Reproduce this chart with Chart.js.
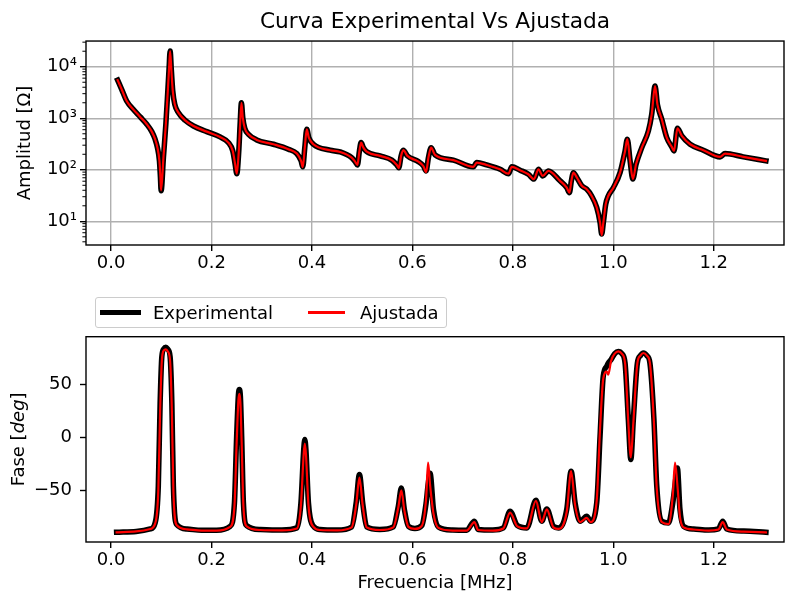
<!DOCTYPE html>
<html lang="es">
<head>
<meta charset="UTF-8" />
<title>Curva Experimental Vs Ajustada</title>
<script src="https://cdn.jsdelivr.net/npm/chart.js"></script>
<style>
  body { margin: 0; background: #fff; }
  #fig { position: relative; width: 785px; height: 597px; font-family: "DejaVu Sans", sans-serif; }
  #ampBox { position: absolute; left: 0; top: 0; }
  #phaseBox { position: absolute; left: 0; top: 290px; }
  #legend {
    position: absolute; left: 95px; top: 297px; width: 352px; height: 31px;
    box-sizing: border-box; border: 1px solid #cccccc; border-radius: 3px; background: #fff;
  }
  #legend .swatch { position: absolute; }
  #legend .label { position: absolute; top: 0; line-height: 29px; font-size: 18px; color: #000; }
</style>
</head>
<body>
<div id="fig">
  <div id="ampBox"><canvas id="ampChart" width="785" height="290"></canvas></div>
  <div id="phaseBox"><canvas id="phaseChart" width="785" height="307"></canvas></div>
  <div id="legend"></div>
</div>
<script>
// --- data (frequency in MHz) ---
const ampFreq = [0.013, 0.021, 0.031, 0.044, 0.058, 0.071, 0.081, 0.0876, 0.0922, 0.0962, 0.0982, 0.0996,
  0.1042, 0.109, 0.1129, 0.1155, 0.1175, 0.1201, 0.1228, 0.1268, 0.134, 0.1474, 0.164, 0.1905, 0.217,
  0.2336, 0.2423, 0.247, 0.2503, 0.2543, 0.2569, 0.2595, 0.2622, 0.2662, 0.2734, 0.29, 0.3232, 0.353,
  0.3698, 0.3783, 0.3817, 0.3857, 0.3896, 0.3937, 0.4028, 0.436, 0.456, 0.479, 0.4859, 0.4905, 0.4945,
  0.4978, 0.5024, 0.509, 0.5356, 0.559, 0.569, 0.5729, 0.5775, 0.582, 0.59, 0.612, 0.622, 0.6273, 0.6319,
  0.6372, 0.645, 0.6816, 0.7214, 0.7282, 0.748, 0.7746, 0.7912, 0.798, 0.8144, 0.831, 0.842, 0.851,
  0.8596, 0.8708, 0.894, 0.9074, 0.9127, 0.9166, 0.9206, 0.9273, 0.9373, 0.9472, 0.957, 0.9671, 0.9737,
  0.977, 0.9803, 0.985, 0.99, 1.0002, 1.0135, 1.0235, 1.028, 1.0335, 1.039, 1.0454, 1.0568, 1.07, 1.0766,
  1.0832, 1.0879, 1.0966, 1.1065, 1.1165, 1.121, 1.1277, 1.1365, 1.153, 1.1794, 1.2126, 1.2226, 1.259, 1.304];
const ampExp = [5500, 3650, 2160, 1490, 1060, 766, 550, 392, 269, 149, 71, 39,
  172, 766, 3390, 9600, 20100, 8260, 3390, 1860, 1285, 912, 708, 550, 434,
  337, 232, 128, 84, 232, 766, 2000, 1030, 640, 490, 380, 313, 251,
  206, 149, 114, 269, 612, 421, 313, 240, 222, 172, 144, 124, 232,
  337, 269, 225, 186, 154, 124, 110, 186, 240, 186, 144, 119, 95, 172,
  269, 195, 154, 114, 138, 124, 102, 84, 114, 98, 82, 66, 102,
  76, 95, 61, 45, 36, 61, 88, 71, 49, 42, 31, 18.5, 9.5,
  5.65, 9.5, 21.5, 31, 45, 88, 232, 392, 149, 66, 128, 269, 568, 1200,
  4230, 1860, 955, 421, 278, 232, 640, 454, 313, 240, 178, 206, 178, 149];
const ampFit = [5500, 3650, 2160, 1490, 1060, 766, 550, 392, 269, 149, 71, 40,
  172, 766, 3390, 9600, 20100, 8260, 3390, 1860, 1285, 912, 708, 550, 434,
  337, 232, 128, 84, 232, 766, 2000, 1030, 640, 490, 380, 313, 251,
  206, 149, 112, 269, 612, 421, 313, 240, 222, 172, 144, 124, 232,
  337, 269, 225, 186, 154, 124, 108, 186, 240, 186, 144, 117, 90, 172,
  269, 195, 154, 114, 138, 124, 102, 84, 114, 98, 82, 66, 102,
  76, 95, 61, 45, 36, 61, 88, 71, 49, 42, 31, 18.5, 9.5,
  5.4, 9.5, 21.5, 31, 45, 88, 232, 392, 149, 66, 128, 269, 568, 1200,
  4230, 1860, 955, 421, 278, 232, 640, 454, 313, 240, 178, 206, 178, 149];

const phaseFreq = [0.011, 0.05, 0.078, 0.0876, 0.094, 0.0976, 0.101, 0.105, 0.109, 0.113, 0.1175, 0.121,
  0.124, 0.1308, 0.151, 0.18, 0.21, 0.237, 0.2456, 0.25, 0.2535, 0.2555, 0.2575, 0.26, 0.2635, 0.27,
  0.297, 0.34, 0.37, 0.378, 0.3835, 0.3857, 0.388, 0.393, 0.403, 0.416, 0.45, 0.479, 0.488, 0.4945,
  0.501, 0.509, 0.535, 0.562, 0.572, 0.578, 0.584, 0.592, 0.605, 0.6187, 0.6273, 0.6312, 0.6352, 0.642,
  0.6517, 0.68, 0.708, 0.7235, 0.731, 0.76, 0.781, 0.7945, 0.809, 0.828, 0.846, 0.8576, 0.8676, 0.8808,
  0.8907, 0.9074, 0.916, 0.924, 0.934, 0.9472, 0.955, 0.967, 0.9737, 0.98, 0.987, 0.99, 0.9956, 1.003,
  1.01, 1.017, 1.0235, 1.03, 1.035, 1.04, 1.048, 1.054, 1.06, 1.067, 1.073, 1.081, 1.0866, 1.0966, 1.11,
  1.1185, 1.123, 1.1277, 1.1328, 1.14, 1.16, 1.19, 1.2093, 1.218, 1.226, 1.26, 1.304];
const phaseExp = [-89.6, -88.8, -86.5, -80.8, -46, 32, 76, 83.5, 85, 83, 76, 32,
  -46, -82.4, -86.5, -87.8, -87.7, -84, -62, 1, 40, 45, 38, 1, -62, -83.3,
  -87, -87.5, -85.5, -62, -12, -2, -12, -62, -84, -87, -87.5, -84.6, -62, -35,
  -62, -84.6, -87, -84.6, -65, -47.8, -68, -84, -86, -83.3, -62, -45, -34, -68,
  -84.6, -87.5, -87.7, -79.2, -87, -87.5, -85.5, -69.8, -83.3, -85.5, -59.4, -79.2, -67.6, -84,
  -85.5, -68, -32, -62, -79.2, -74.5, -79.2, -62, 1, 57.5, 67, 70, 73.3, 79,
  81, 79, 70, 16.7, -21, 16.7, 70, 77, 79.5, 77, 70, 16.7, -46, -79.2, -80.8,
  -62, -45, -29, -68, -84, -86.5, -87.5, -86.5, -79.2, -86.5, -88.5, -89.6];
const phaseFit = [-89.6, -88.8, -86.5, -81.5, -50, 25, 72, 82, 83, 81, 72, 25,
  -50, -83, -86.8, -88, -88, -84.5, -65, -5, 35, 41, 33, -5, -65, -84,
  -87.5, -87.8, -86, -64, -16, -6, -16, -64, -84.5, -87.5, -87.8, -85, -64, -38,
  -64, -85, -87.5, -85, -66, -50, -69, -84.5, -86.5, -83.5, -58, -24, -45, -72,
  -85.5, -88, -88, -80, -87.5, -88, -86, -71, -84, -86, -60, -80, -68, -85,
  -86.5, -70, -32, -64, -80, -76, -80, -60, 8, 55, 62, 59, 72, 79,
  81, 79, 70, 14, -19, 14, 70, 77, 79.5, 77, 70, 14, -48, -80, -82,
  -55, -24, -45, -75, -85, -87, -88, -87, -80, -87, -89, -89.8];

const xTicks = [0, 0.2, 0.4, 0.6, 0.8, 1.0, 1.2];
const ampTicks = [10, 100, 1000, 10000];
const ampTickLabels = ['10¹', '10²', '10³', '10⁴'];
const ampMinorTicks = [4, 5, 6, 7, 8, 9, 20, 30, 40, 50, 60, 70, 80, 90, 200, 300, 400, 500, 600, 700, 800, 900,
  2000, 3000, 4000, 5000, 6000, 7000, 8000, 9000, 20000, 30000];
const phaseTicks = [-50, 0, 50];
const phaseTickLabels = ['−50', '0', '50'];

Chart.defaults.font.family = '"DejaVu Sans", sans-serif';
Chart.defaults.font.size = 18;
Chart.defaults.color = '#000';

const toPoints = (xs, ys) => xs.map((x, i) => ({ x: x, y: ys[i] }));

// black box around the axes + minor log ticks
const frame = {
  id: 'frame',
  afterDraw(chart, args, opts) {
    const { ctx, chartArea: a } = chart;
    ctx.save();
    ctx.strokeStyle = '#000';
    ctx.lineWidth = 1.4;
    ctx.strokeRect(a.left, a.top, a.right - a.left, a.bottom - a.top);
    if (opts.minor) {
      const y = chart.scales.y;
      ctx.lineWidth = 1;
      opts.minor.forEach(v => {
        const p = y.getPixelForValue(v);
        if (p < a.top || p > a.bottom) return;
        ctx.beginPath();
        ctx.moveTo(a.left - 3.6, p);
        ctx.lineTo(a.left, p);
        ctx.stroke();
      });
    }
    ctx.restore();
  }
};

// y label "Fase [deg]" with italic deg
const faseLabel = {
  id: 'faseLabel',
  afterDraw(chart) {
    const { ctx, chartArea: a } = chart;
    const parts = [['Fase [', ''], ['deg', 'italic '], [']', '']];
    ctx.save();
    ctx.translate(19, (a.top + a.bottom) / 2);
    ctx.rotate(-Math.PI / 2);
    ctx.textBaseline = 'middle';
    ctx.fillStyle = '#000';
    let total = 0;
    parts.forEach(p => {
      ctx.font = p[1] + '18px "DejaVu Sans"';
      total += ctx.measureText(p[0]).width;
    });
    let x = -total / 2;
    parts.forEach(p => {
      ctx.font = p[1] + '18px "DejaVu Sans"';
      ctx.fillText(p[0], x, 0);
      x += ctx.measureText(p[0]).width;
    });
    ctx.restore();
  }
};

const lineOpts = {
  point: { radius: 0 },
  line: { cubicInterpolationMode: 'monotone', borderJoinStyle: 'round', borderCapStyle: 'square', fill: false }
};

const xScale = (gridOn, h) => ({
  type: 'linear', min: -0.05, max: 1.34, bounds: 'data',
  afterBuildTicks: s => { s.ticks = xTicks.map(v => ({ value: v })); },
  afterFit: s => { s.height = h; },
  ticks: { callback: v => v.toFixed(1), padding: 1.5, maxRotation: 0, autoSkip: false },
  grid: { drawOnChartArea: gridOn, color: '#b0b0b0', lineWidth: 1.4, tickColor: '#000', tickWidth: 1.4, tickLength: 6 },
  border: { display: false }
});

new Chart(document.getElementById('ampChart'), {
  type: 'line',
  data: {
    datasets: [
      { label: 'Experimental', data: toPoints(ampFreq, ampExp), borderColor: '#000000', borderWidth: 5.5, order: 2 },
      { label: 'Ajustada', data: toPoints(ampFreq, ampFit), borderColor: '#ff0000', borderWidth: 2.2, order: 1 }
    ]
  },
  options: {
    responsive: false, animation: false,
    layout: { padding: { right: 1 } },
    elements: lineOpts,
    plugins: {
      legend: { display: false }, tooltip: { enabled: false },
      title: { display: true, text: 'Curva Experimental Vs Ajustada', fullSize: false, color: '#000',
        font: { size: 21.7, weight: 'normal' }, padding: { top: 9, bottom: 6 } },
      frame: { minor: ampMinorTicks }
    },
    scales: {
      x: xScale(true, 45),
      y: {
        type: 'logarithmic', min: 3.467, max: 31540, bounds: 'data',
        afterBuildTicks: s => { s.ticks = ampTicks.map(v => ({ value: v })); },
        afterFit: s => { s.width = 86; },
        ticks: { callback: (v, i) => ampTickLabels[i], padding: 3, autoSkip: false },
        grid: { color: '#b0b0b0', lineWidth: 1.4, tickColor: '#000', tickWidth: 1.4, tickLength: 6 },
        border: { display: false },
        title: { display: true, text: 'Amplitud [Ω]', padding: { top: 14.2, bottom: 0 } }
      }
    }
  },
  plugins: [frame]
});

const phaseChart = new Chart(document.getElementById('phaseChart'), {
  type: 'line',
  data: {
    datasets: [
      { label: 'Experimental', data: toPoints(phaseFreq, phaseExp), borderColor: '#000000', borderWidth: 5.5, order: 2 },
      { label: 'Ajustada', data: toPoints(phaseFreq, phaseFit), borderColor: '#ff0000', borderWidth: 2.2, order: 1 }
    ]
  },
  options: {
    responsive: false, animation: false,
    layout: { padding: { top: 46.7, right: 1 } },
    elements: lineOpts,
    plugins: { legend: { display: false }, tooltip: { enabled: false }, frame: {} },
    scales: {
      x: Object.assign(xScale(false, 55), {
        title: { display: true, text: 'Frecuencia [MHz]', padding: { top: 0, bottom: 3.2 } }
      }),
      y: {
        type: 'linear', min: -98.8, max: 94.9, bounds: 'data',
        afterBuildTicks: s => { s.ticks = phaseTicks.map(v => ({ value: v })); },
        afterFit: s => { s.width = 86; },
        ticks: { callback: (v, i) => phaseTickLabels[i], padding: 8, autoSkip: false },
        grid: { drawOnChartArea: false, tickColor: '#000', tickWidth: 1.4, tickLength: 6 },
        border: { display: false }
      }
    }
  },
  plugins: [frame, faseLabel]
});

// html legend built from the datasets
const legendSlots = [{ line: 4, w: 41, text: 57 }, { line: 212, w: 37, text: 264 }];
const legendBox = document.getElementById('legend');
phaseChart.data.datasets.forEach((ds, i) => {
  const s = legendSlots[i];
  const sw = document.createElement('span');
  sw.className = 'swatch';
  sw.style.left = s.line + 'px';
  sw.style.width = s.w + 'px';
  sw.style.height = ds.borderWidth + 'px';
  sw.style.top = (14.5 - ds.borderWidth / 2) + 'px';
  sw.style.background = ds.borderColor;
  const lb = document.createElement('span');
  lb.className = 'label';
  lb.style.left = s.text + 'px';
  lb.textContent = ds.label;
  legendBox.append(sw, lb);
});
</script>
</body>
</html>
